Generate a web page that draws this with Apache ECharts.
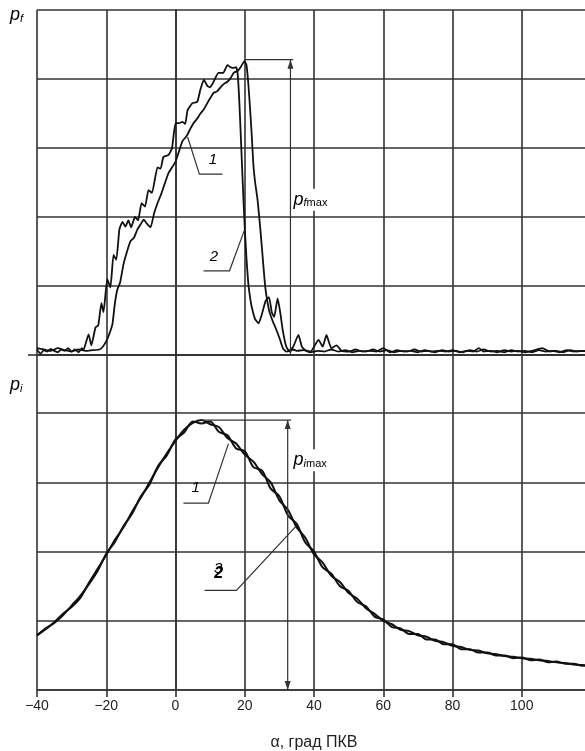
<!DOCTYPE html>
<html>
<head>
<meta charset="utf-8">
<script src="https://cdn.jsdelivr.net/npm/echarts@6/dist/echarts.min.js"></script>
<style>
  html, body { margin: 0; padding: 0; background: #fff; }
  #chart { width: 585px; height: 751px; }
</style>
</head>
<body>
<div id="chart"></div>
<script>
// x ticks (deg), shared by both panels
const xTicks = [-40, -20, 0, 20, 40, 60, 80, 100, 120]

// top panel: p_f, [deg, value]
const pf1 = [
  [-40,0.1],[-38,0.08],[-36,0.06],[-34,0.1],[-32,0.07],[-30,0.05],[-28,0.08],[-26,0.06],[-24,0.07],[-22,0.08],
  [-21,0.12],[-20,0.2],[-19,0.32],[-18.2,0.45],[-17.5,0.75],[-16.8,0.95],[-16,1.05],[-15,1.32],[-14,1.5],
  [-13,1.65],[-12,1.7],[-11,1.82],[-10,1.9],[-9.2,1.96],[-8.2,1.9],[-7.2,1.85],[-6.2,2.05],[-5.2,2.2],
  [-4,2.35],[-3,2.5],[-2,2.64],[-1,2.72],[0,2.8],[1,2.95],[2,3.1],[3,3.16],[3.5,3.2],[4.3,3.28],[5.2,3.36],
  [6.2,3.42],[7.2,3.5],[8.2,3.56],[9.2,3.65],[10,3.72],[11,3.8],[12,3.82],[13,3.88],[14,3.93],[15,3.96],
  [16,4.02],[16.8,4.09],[18,4.12],[18.8,4.17],[19.9,4.26],[20.5,4.2],[21,3.95],[21.5,3.6],[22,3.2],
  [22.5,2.75],[23,2.5],[23.7,2.25],[24.6,1.77],[25.4,1.28],[26,0.95],[27,0.65],[28,0.5],[29,0.38],
  [30,0.25],[31,0.1],[32,0.05],[33,0.07],[34,0.12],[35.5,0.29],[36.5,0.12],[37.5,0.07],[39,0.04],
  [41,0.06],[43,0.05],[45,0.08],[47,0.05],[49,0.07],[51,0.04],[53,0.06],[55,0.05],[57,0.08],[59,0.05],
  [61,0.07],[63,0.04],[65,0.06],[67,0.05],[69,0.08],[71,0.05],[73,0.06],[75,0.04],[77,0.07],[79,0.05],
  [81,0.06],[83,0.04],[85,0.07],[87,0.05],[89,0.08],[91,0.05],[93,0.06],[95,0.04],[97,0.07],[99,0.05],
  [101,0.06],[103,0.04],[105,0.07],[107,0.05],[109,0.06],[111,0.04],[113,0.07],[115,0.05],[117,0.06],[120,0.05]
]
const pf2 = [
  [-40,0.08],[-39,0.02],[-38,0.07],[-37,0.05],[-36,0.09],[-35,0.06],[-34,0.04],[-33,0.08],[-32,0.06],
  [-31,0.1],[-30,0.05],[-29,0.08],[-28,0.04],[-27,0.1],[-26.6,0.07],[-25.1,0.3],[-24.3,0.14],[-23.1,0.4],
  [-22.3,0.43],[-21.4,0.75],[-20.8,0.62],[-19.7,1.1],[-18.8,0.98],[-17.9,1.45],[-17.1,1.38],[-16.2,1.82],
  [-15.3,1.93],[-14.5,1.86],[-13.6,1.95],[-12.8,1.85],[-11.7,2.0],[-10.8,1.95],[-9.8,2.2],[-8.8,2.15],
  [-7.8,2.39],[-6.8,2.35],[-5.2,2.72],[-4.3,2.7],[-3.5,2.87],[-2,2.9],[-1,3.0],[0,3.36],[1,3.36],[2,3.38],
  [2.8,3.35],[3.5,3.55],[4.9,3.65],[6.3,3.67],[7.2,3.85],[8.2,3.99],[9.2,3.9],[10,3.88],[11,3.96],
  [12.4,4.09],[13.8,4.09],[15,4.2],[16.4,4.16],[17.5,4.17],[18,4.05],[18.5,3.6],[19,3.0],[19.5,2.4],
  [20,1.85],[20.5,1.4],[21,1.05],[21.5,0.85],[22,0.7],[23,0.52],[24,0.46],[25,0.6],[26,0.78],[27,0.84],
  [27.8,0.62],[28.5,0.55],[29.5,0.82],[30.3,0.6],[31,0.35],[32,0.12],[33,0.05],[34,0.08],[35,0.06],
  [37,0.07],[39,0.05],[41.3,0.22],[42.5,0.12],[43.6,0.29],[45,0.1],[46.5,0.14],[48,0.06],[50,0.05],
  [52,0.08],[54,0.05],[56,0.06],[58,0.05],[60,0.1],[62,0.04],[64,0.07],[66,0.05],[68,0.06],[70,0.04],
  [72,0.07],[74,0.05],[76,0.06],[78,0.05],[80,0.07],[82,0.04],[84,0.06],[86,0.05],[87.6,0.1],[89,0.05],
  [91,0.06],[93,0.04],[95,0.07],[97,0.05],[99,0.06],[101,0.04],[103,0.06],[106,0.1],[108,0.05],[110,0.06],
  [112,0.04],[114,0.07],[116,0.05],[118,0.06],[120,0.05]
]

// bottom panel: p_i, [deg, value]
const pi1 = [
  [-40,0.79],[-37.5,0.88],[-35,0.98],[-32.5,1.1],[-30,1.2],[-27.5,1.33],[-25,1.55],[-22.5,1.75],[-20,1.95],
  [-17.5,2.17],[-15,2.35],[-12.5,2.58],[-10,2.78],[-7.5,3.0],[-5,3.22],[-2.5,3.42],[0,3.6],[2.5,3.76],
  [5,3.86],[7.5,3.9],[10,3.84],[12.5,3.8],[15,3.64],[17.5,3.56],[20,3.4],[22.5,3.3],[25,3.12],[27.5,3.0],
  [30,2.74],[32.5,2.6],[35,2.35],[37.5,2.2],[40,1.96],[42.5,1.84],[45,1.65],[47.5,1.56],[50,1.4],
  [52.5,1.32],[55,1.18],[57.5,1.1],[60,1.0],[62.5,0.95],[65,0.87],[67.5,0.85],[70,0.79],[72.5,0.77],
  [75,0.71],[77.5,0.69],[80,0.64],[82.5,0.62],[85,0.58],[87.5,0.57],[90,0.53],[92.5,0.52],[95,0.49],
  [97.5,0.48],[100,0.46],[102.5,0.45],[105,0.43],[107.5,0.42],[110,0.4],[112.5,0.39],[115,0.37],[117.5,0.36],[120,0.35]
]
const pi2 = [
  [-40,0.79],[-37.5,0.89],[-35,0.97],[-32.5,1.08],[-30,1.22],[-27.5,1.36],[-25,1.53],[-22.5,1.72],[-20,1.97],
  [-17.5,2.14],[-15,2.37],[-12.5,2.55],[-10,2.8],[-7.5,2.97],[-5,3.24],[-2.5,3.39],[0,3.62],[2.5,3.72],
  [5,3.88],[7.5,3.85],[10,3.88],[12.5,3.73],[15,3.68],[17.5,3.49],[20,3.45],[22.5,3.22],[25,3.17],[27.5,2.91],
  [30,2.8],[32.5,2.52],[35,2.4],[37.5,2.13],[40,2.0],[42.5,1.77],[45,1.68],[47.5,1.5],[50,1.43],
  [52.5,1.27],[55,1.21],[57.5,1.06],[60,1.02],[62.5,0.91],[65,0.89],[67.5,0.81],[70,0.81],[72.5,0.73],
  [75,0.73],[77.5,0.66],[80,0.66],[82.5,0.59],[85,0.59],[87.5,0.54],[90,0.54],[92.5,0.5],[95,0.5],
  [97.5,0.46],[100,0.47],[102.5,0.43],[105,0.44],[107.5,0.4],[110,0.41],[112.5,0.38],[115,0.38],[117.5,0.35],[120,0.35]
]

const ink = '#111'
const gridCol = '#333'
const narrow = "'Liberation Sans Narrow', 'Arial Narrow', 'Liberation Sans', sans-serif"

const chart = echarts.init(document.getElementById('chart'))

function curve(name, data, grid) {
  return {
    name, type: 'line', data, xAxisIndex: grid, yAxisIndex: grid,
    symbol: 'none', smooth: grid === 1 ? 0.3 : 0.15,
    lineStyle: { color: ink, width: grid === 1 ? 2 : 1.8 },
    animation: false
  }
}

const gl = { color: gridCol, width: 1.6 }

const option = {
  animation: false,
  backgroundColor: '#fff',
  grid: [
    { left: 37, top: 10, width: 554, height: 345, outerBoundsMode: 'none' },
    { left: 37, top: 355, width: 554, height: 335, outerBoundsMode: 'none' }
  ],
  xAxis: [
    {
      gridIndex: 0, type: 'value', min: xTicks[0], max: xTicks[xTicks.length - 1], interval: 20,
      axisLine: { show: true, lineStyle: gl },
      axisTick: { show: false }, axisLabel: { show: false },
      splitLine: { show: true, lineStyle: gl }
    },
    {
      gridIndex: 1, type: 'value', min: xTicks[0], max: xTicks[xTicks.length - 1], interval: 20,
      axisLine: { show: true, onZero: false, lineStyle: gl },
      axisTick: { show: true, length: 7, lineStyle: gl },
      axisLabel: {
        color: '#222', fontFamily: narrow, fontSize: 14, margin: 9,
        formatter: v => (v >= 120 ? '' : String(v).replace('-', '\u2212'))
      },
      splitLine: { show: true, lineStyle: gl },
      name: '\u03b1, град ПКВ', nameLocation: 'middle', nameGap: 45,
      nameTextStyle: { color: '#222', fontFamily: narrow, fontSize: 16 }
    }
  ],
  yAxis: [
    {
      gridIndex: 0, type: 'value', min: 0, max: 5, interval: 1,
      axisLine: { show: true, lineStyle: gl },
      axisTick: { show: false }, axisLabel: { show: false },
      splitLine: { show: true, lineStyle: gl }
    },
    {
      gridIndex: 1, type: 'value', min: 0, max: 4.84, interval: 1,
      axisLine: { show: true, lineStyle: gl },
      axisTick: { show: false }, axisLabel: { show: false },
      splitLine: { show: true, lineStyle: gl }
    }
  ],
  series: [
    curve('pf1', pf1, 0),
    curve('pf2', pf2, 0),
    curve('pi1', pi1, 1),
    curve('pi2', pi2, 1)
  ]
}
chart.setOption(option)

// annotations, placed in data coordinates
const px = (g, p) => chart.convertToPixel({ gridIndex: g }, p)
const rich = {
  p: { fontFamily: narrow, fontSize: 18, fontStyle: 'italic', color: '#222', verticalAlign: 'bottom', lineHeight: 18 },
  si: { fontFamily: narrow, fontSize: 11, fontStyle: 'italic', color: '#222', verticalAlign: 'bottom', lineHeight: 14 },
  s: { fontFamily: narrow, fontSize: 11, color: '#222', verticalAlign: 'bottom', lineHeight: 14 },
  n: { fontFamily: narrow, fontSize: 15, fontStyle: 'italic', color: '#222' },
  b: { fontFamily: narrow, fontSize: 16, fontStyle: 'italic', fontWeight: 'bold', color: '#222' }
}
const stroke = { stroke: '#333', lineWidth: 1.2, fill: null }

function poly(g, pts, w) {
  return { type: 'polyline', silent: true, z: 50, shape: { points: pts.map(p => px(g, p)) }, style: Object.assign({}, stroke, w ? { lineWidth: w } : {}) }
}
function arrow(g, p, dir) {
  const [x, y] = px(g, p)
  const d = dir === 'up' ? 9 : -9
  return { type: 'polygon', silent: true, z: 51, shape: { points: [[x, y], [x - 3, y + d], [x + 3, y + d]] }, style: { fill: '#333' } }
}
function label(g, p, text, bg) {
  const [x, y] = px(g, p)
  return {
    type: 'text', silent: true, z: 60, x, y,
    style: { text, rich, align: 'left', verticalAlign: 'middle', backgroundColor: bg ? '#fff' : null, padding: bg ? [2, 6, 2, 1] : 0 }
  }
}

chart.setOption({
  graphic: [
    // stub of the top panel baseline left of the frame
    poly(0, [[-42.6, 0], [-40, 0]], 1.6),
    // top panel: p_fmax
    poly(0, [[19.9, 4.28], [34, 4.28]]),
    poly(0, [[33.2, 4.28], [33.2, 0]]),
    arrow(0, [33.2, 4.28], 'up'),
    label(0, [33.8, 2.25], '{p|p}{si|f}{s|max}', true),
    // top panel: leaders 1 and 2
    poly(0, [[3.5, 3.16], [6.9, 2.62], [13.6, 2.62]]),
    label(0, [9.6, 2.83], '{n|1}'),
    poly(0, [[19.9, 1.81], [15.6, 1.22], [8.1, 1.22]]),
    label(0, [9.9, 1.43], '{n|2}'),
    // bottom panel: p_imax
    poly(1, [[7.2, 3.9], [33.4, 3.9]]),
    poly(1, [[32.4, 3.9], [32.4, 0]]),
    arrow(1, [32.4, 3.9], 'up'),
    arrow(1, [32.4, 0], 'down'),
    label(1, [33.8, 3.32], '{p|p}{si|i}{s|max}', true),
    // bottom panel: leaders 1 and 2
    poly(1, [[15.3, 3.56], [9.5, 2.7], [2.3, 2.7]]),
    label(1, [4.6, 2.92], '{n|1}'),
    poly(1, [[34.7, 2.36], [17.6, 1.44], [8.4, 1.44]]),
    label(1, [11.1, 1.75], '{n|3}'),
    label(1, [11.2, 1.68], '{b|2}'),
    // panel names
    { type: 'text', silent: true, x: 10, y: 6, style: { text: '{p|p}{si|f}', rich } },
    { type: 'text', silent: true, x: 10, y: 376, style: { text: '{p|p}{si|i}', rich } }
  ]
})
</script>
</body>
</html>
